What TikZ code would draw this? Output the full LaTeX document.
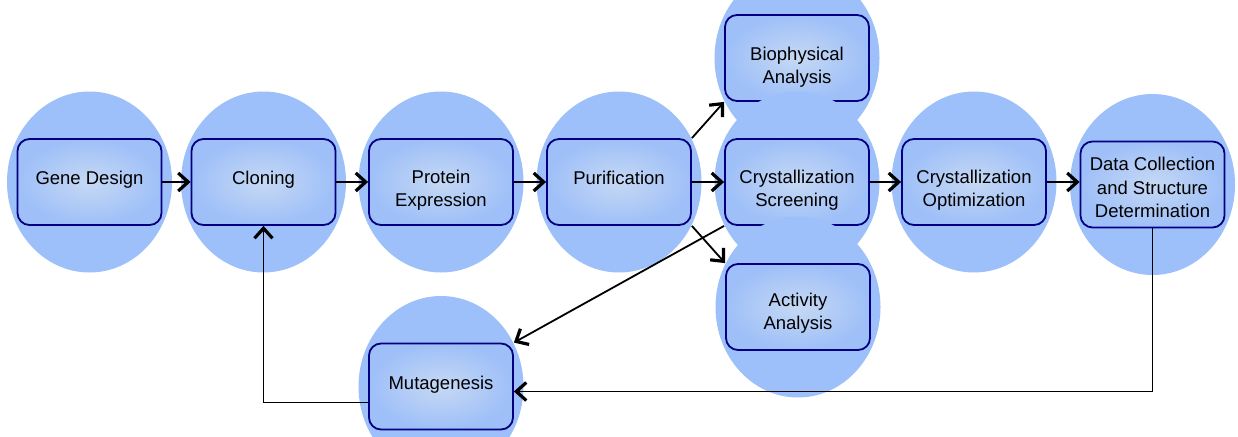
\documentclass[tikz,border=0pt]{standalone}
\usepackage{fontspec}
\setmainfont{Liberation Sans}
\usetikzlibrary{shapes.geometric, arrows.meta}

\definecolor{halofill}{RGB}{157,192,250}
\definecolor{boxmid}{RGB}{198,217,244}
\definecolor{boxrim}{RGB}{158,191,248}
\definecolor{navyrim}{RGB}{0,0,128}

\tikzset{
  halo/.style={ellipse, fill=halofill, minimum width=165pt, minimum height=181pt, inner sep=0pt},
  stage/.style={rectangle, rounded corners=12pt, draw=navyrim, line width=1.8pt,
    inner color=boxmid, outer color=boxrim, minimum width=144pt, minimum height=86pt},
  caption/.style={align=center, inner sep=0pt, font=\fontsize{18.5}{23.5}\selectfont},
  flow/.style={line width=1.8pt, -{Straight Barb[length=10pt, width=18pt, line width=3.2pt]}}
}

\begin{document}
\begin{tikzpicture}[x=1pt, y=-1pt]
  \clip (0,0) rectangle (1238,436);

  % each stage: a blue halo, the box, then its text (nudged by \d)
  \foreach \n/\x/\y/\d/\t in {gene/89.5/182/-2/{Gene Design}, clon/263.5/182/-2/{Cloning},
      prot/441/182/8/{Protein\\Expression}, puri/619/182/-4/{Purification},
      bio/797/58/9/{Biophysical\\Analysis}, scr/797/182/8/{Crystallization\\Screening},
      act/798/307/6/{Activity\\Analysis}, opt/974/182/8/{Crystallization\\Optimization},
      data/1152.5/184.5/3/{Data Collection\\and Structure\\Determination},
      mut/441/386.5/-2/{Mutagenesis}} {
    \node [halo] (\n-halo) at (\x,\y) {};
    \node [stage] (\n) at (\x,\y) {};
    \node [caption] (\n-txt) at (\x,{\y+\d}) {\t};
  }

  \draw [flow] (gene) -- (clon);
  \draw [flow] (clon) -- (prot);
  \draw [flow] (prot) -- (puri);
  \draw [flow] (puri) -- (scr);
  \draw [flow] (scr) -- (opt);
  \draw [flow] (opt.east) -- (opt.east -| data.west);

  \draw [flow] (puri.north east) -- (bio.south west);
  \draw [flow] (puri.south east) -- (act.north west);
  \draw [flow] (scr.south west) -- (mut.north east);

  % loops back through mutagenesis
  \draw [flow] (data.south) |- ([yshift=-5pt]mut.east);
  \draw [flow] ([yshift=-16pt]mut.west) -| (clon.south);
\end{tikzpicture}
\end{document}
